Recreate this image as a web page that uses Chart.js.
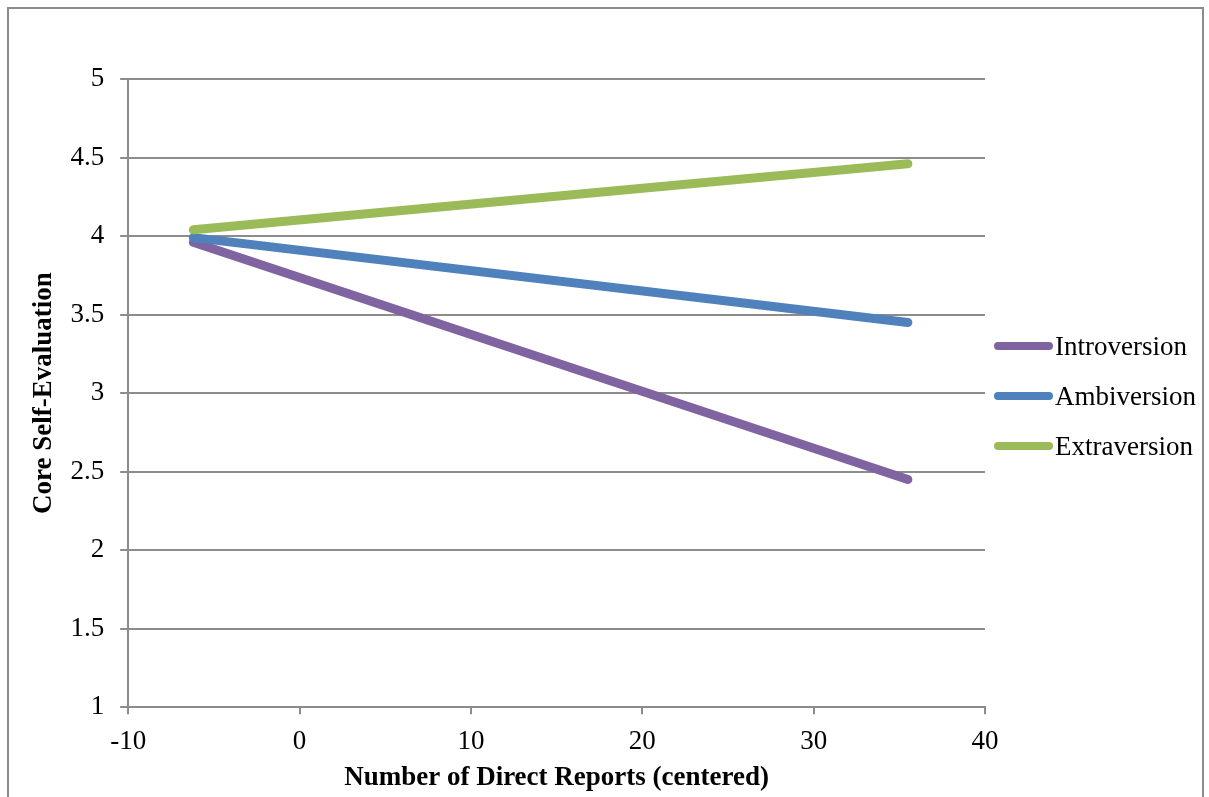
<!DOCTYPE html>
<html>
<head>
<meta charset="utf-8">
<title>Core Self-Evaluation by Number of Direct Reports</title>
<script src="https://cdn.jsdelivr.net/npm/chart.js@4.4.1/dist/chart.umd.min.js"></script>
<style>
  html, body { margin: 0; padding: 0; background: #fff; }
  #wrap { position: relative; width: 1209px; height: 797px; overflow: hidden; }
  #frame {
    position: absolute; left: 7px; top: 7px; width: 1197px; height: 820px;
    border: 2px solid #8c8c8c; box-sizing: border-box;
  }
  #chart { position: absolute; left: 0; top: 0; }
</style>
</head>
<body>
<div id="wrap">
  <div id="frame"></div>
  <canvas id="chart" width="1209" height="797"></canvas>
</div>
<script>
// DATA
// -----------------------------------------------------------------------------
var xEnds = [-6.2, 35.5];
var introversion = [3.96, 2.45];
var ambiversion = [3.99, 3.45];
var extraversion = [4.04, 4.46];

var xTicks = [-10, 0, 10, 20, 30, 40];
var yTicks = [1, 1.5, 2, 2.5, 3, 3.5, 4, 4.5, 5];

// HELPERS
// -----------------------------------------------------------------------------
function toPoints(ys) {
    return xEnds.map(function(x, i) {
        return { x: x, y: ys[i] };
    });
}

var serif = "'Liberation Serif', 'Times New Roman', serif";
var gridGrey = '#8c8c8c';

function series(label, ys, colour, order) {
    return {
        label: label,
        data: toPoints(ys),
        borderColor: colour,
        backgroundColor: colour,
        borderWidth: 9,
        borderCapStyle: 'round',
        pointRadius: 0,
        tension: 0,
        order: order
    };
}

// Legend to the right of the plot, centred on the plot area like Excel does
var sideLegend = {
    id: 'sideLegend',
    afterDraw: function(chart) {
        var c = chart.ctx;
        var area = chart.chartArea;
        var mid = (area.top + area.bottom) / 2 + 3;
        var x0 = area.right + 13;
        c.save();
        c.font = '27px ' + serif;
        c.textBaseline = 'alphabetic';
        c.fillStyle = '#000';
        chart.data.datasets.forEach(function(ds, i) {
            var y = mid + (i - 1) * 50;
            c.beginPath();
            c.lineWidth = 8;
            c.lineCap = 'round';
            c.strokeStyle = ds.borderColor;
            c.moveTo(x0, y);
            c.lineTo(x0 + 51, y);
            c.stroke();
            c.fillText(ds.label, x0 + 57, y + 9);
        });
        c.restore();
    }
};

// CHART
// -----------------------------------------------------------------------------
var ctx = document.getElementById('chart');
var chart = new Chart(ctx, {
    type: 'line',
    data: {
        datasets: [
            series('Introversion', introversion, '#8064A2', 3),
            series('Ambiversion', ambiversion, '#4F81BD', 2),
            series('Extraversion', extraversion, '#9BBB59', 1)
        ]
    },
    plugins: [sideLegend],
    options: {
        responsive: false,
        animation: false,
        devicePixelRatio: 1,
        layout: {
            padding: { top: 79, right: 224, bottom: 3, left: 24 }
        },
        plugins: {
            tooltip: { enabled: false },
            legend: { display: false }
        },
        scales: {
            x: {
                type: 'linear',
                min: xTicks[0],
                max: xTicks[xTicks.length - 1],
                afterBuildTicks: function(axis) {
                    axis.ticks = xTicks.map(function(v) { return { value: v }; });
                },
                grid: {
                    drawOnChartArea: false,
                    color: gridGrey,
                    lineWidth: 2,
                    tickLength: 7
                },
                border: { color: gridGrey, width: 2 },
                ticks: {
                    color: '#000',
                    padding: 12,
                    maxRotation: 0,
                    font: { family: serif, size: 27 },
                    callback: function(v) { return String(v); }
                },
                title: {
                    display: true,
                    text: 'Number of Direct Reports (centered)',
                    color: '#000',
                    padding: { top: -9, bottom: 0 },
                    font: { family: serif, size: 27, weight: 'bold' }
                }
            },
            y: {
                type: 'linear',
                min: yTicks[0],
                max: yTicks[yTicks.length - 1],
                afterBuildTicks: function(axis) {
                    axis.ticks = yTicks.map(function(v) { return { value: v }; });
                },
                grid: {
                    color: gridGrey,
                    lineWidth: 2,
                    tickLength: 8
                },
                border: { color: gridGrey, width: 2 },
                ticks: {
                    color: '#000',
                    padding: 16,
                    font: { family: serif, size: 27 },
                    callback: function(v) { return String(v); }
                },
                title: {
                    display: true,
                    text: 'Core Self-Evaluation',
                    color: '#000',
                    padding: { top: 4, bottom: -6 },
                    font: { family: serif, size: 27, weight: 'bold' }
                }
            }
        }
    }
});
</script>
</body>
</html>
